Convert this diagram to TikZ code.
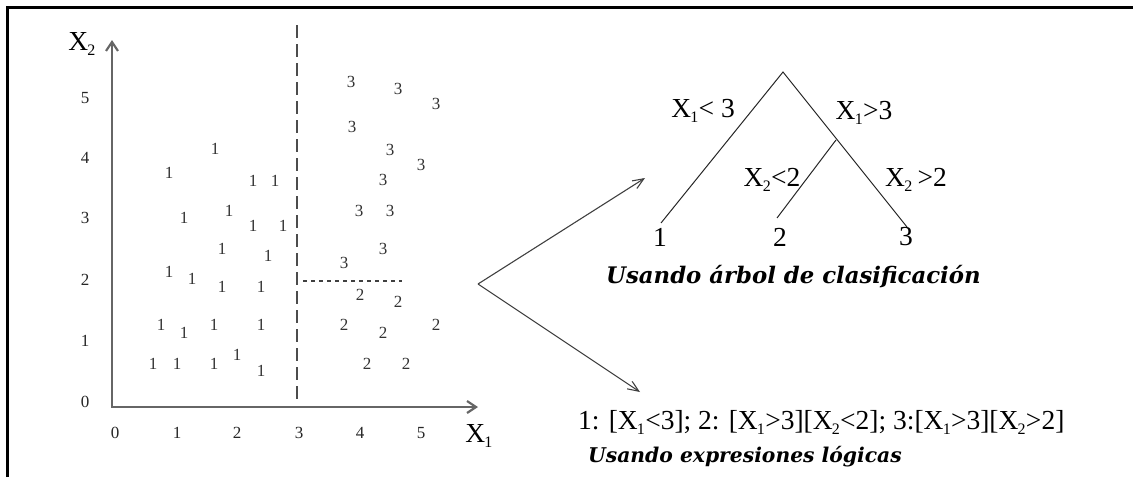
\documentclass[tikz,border=0pt]{standalone}
\usepackage{fontspec}
\setmainfont{Liberation Serif}
\newfontfamily\capfont{DejaVu Serif}
\usetikzlibrary{arrows.meta}
\newcommand{\sbx}[1]{\kern-0.8pt\raisebox{-5pt}{\fontsize{16}{16}\selectfont #1}\kern0.3pt}
\begin{document}
\begin{tikzpicture}[x=1pt,y=-1pt,
  pt/.style={font=\fontsize{17}{17}\selectfont, text=black!80, inner sep=0pt},
  tick/.style={font=\fontsize{17}{17}\selectfont, text=black!85, inner sep=0pt},
  big/.style={font=\fontsize{27.5}{27.5}\selectfont, inner sep=0pt},
  captext/.style={font=\capfont\bfseries\itshape\fontsize{21.5}{21.5}\selectfont, inner sep=0pt},
  axis/.style={line width=2.2pt, draw=black!60, {Straight Barb[length=9pt,width=12pt]}-{Straight Barb[length=9pt,width=12pt]}},
  branch/.style={line width=1pt, draw=black!85},
  arr/.style={line width=1.1pt, draw=black!75, -{Straight Barb[length=11pt, width=9pt]}},
  framebox/.style={line width=3pt, draw=black},
]
\useasboundingbox (0,0) rectangle (1133,477);
% frame
\draw[framebox] (7.5,477) -- (7.5,7.5) -- (1133,7.5);

% axes
\coordinate (O) at (112,407);
\coordinate (xe) at (478,407);
\coordinate (ye) at (112,40);
\draw[axis] (ye) -- (O) -- (xe);
\node[big] (x2lab) at (82,44) {X\sbx{2}};
\node[big] (x1lab) at (479,436) {X\sbx{1}};

% tick labels
\foreach \v/\yy in {0/402,1/341,2/280,3/218,4/158,5/98}
  \node[tick] (yt\v) at (85,\yy) {\v};
\foreach \v/\xx in {0/115,1/177,2/237,3/299,4/360,5/421}
  \node[tick] (xt\v) at (\xx,433) {\v};

% split lines
\coordinate (d1) at (297,25);
\coordinate (d2) at (297,403);
\draw[line width=1.1pt, black!70, dash pattern=on 13pt off 6pt] (d1) -- (d2);
\coordinate (h1) at (303,281);
\coordinate (h2) at (402,281);
\draw[line width=1.2pt, black!75, dash pattern=on 4pt off 4pt] (h1) -- (h2);

% data points
\foreach \x/\y [count=\i] in {215/149,169/173,253/181,275/181,184/218,229/211,253/226,283/226,
  222/249,268/256,169/272,192/279,222/287,261/287,161/325,184/333,214/325,261/325,
  153/364,177/364,214/364,237/355,261/371}
  \node[pt] (one\i) at (\x,\y) {1};
\foreach \x/\y [count=\i] in {360/295,398/302,344/325,383/333,436/325,367/364,406/364}
  \node[pt] (two\i) at (\x,\y) {2};
\foreach \x/\y [count=\i] in {351/82,398/89,436/104,352/127,390/150,421/165,383/180,
  359/211,390/211,383/249,344/263}
  \node[pt] (three\i) at (\x,\y) {3};

% tree
\coordinate (root) at (783,72);
\coordinate (b) at (836,140);
\coordinate (e1) at (661,223);
\coordinate (e2) at (777,218);
\coordinate (e3) at (907,227);
\draw[branch] (e1) -- (root) -- (e3);
\draw[branch] (b) -- (e2);
\node[big] (leaf1) at (660,237) {1};
\node[big] (leaf2) at (780,237) {2};
\node[big] (leaf3) at (906,237) {3};
\node[big] (c1) at (703,111) {X\sbx{1}< 3};
\node[big] (c2) at (864,113) {X\sbx{1}>3};
\node[big] (c3) at (772,180) {X\sbx{2}<2};
\node[big] (c4) at (916,180) {X\sbx{2}\kern5pt>2};
\node[captext, anchor=west, font=\capfont\bfseries\itshape\fontsize{22.8}{22.8}\selectfont] (cap1) at (606,277) {Usando árbol de clasificación};

% logical expressions
\node[big, anchor=west] (expr) at (578,422) {1: [X\sbx{1}<3]; 2: [X\sbx{1}>3][X\sbx{2}<2]; 3:[X\sbx{1}>3][X\sbx{2}>2]};
\node[captext, anchor=west, font=\capfont\bfseries\itshape\fontsize{20.3}{20.3}\selectfont] (cap2) at (588,457) {Usando expresiones lógicas};

% arrows
\coordinate (V) at (478,284);
\coordinate (ta) at (645,178);
\coordinate (tb) at (640,392);
\draw[arr] (V) -- (ta);
\draw[arr] (V) -- (tb);
\end{tikzpicture}
\end{document}
